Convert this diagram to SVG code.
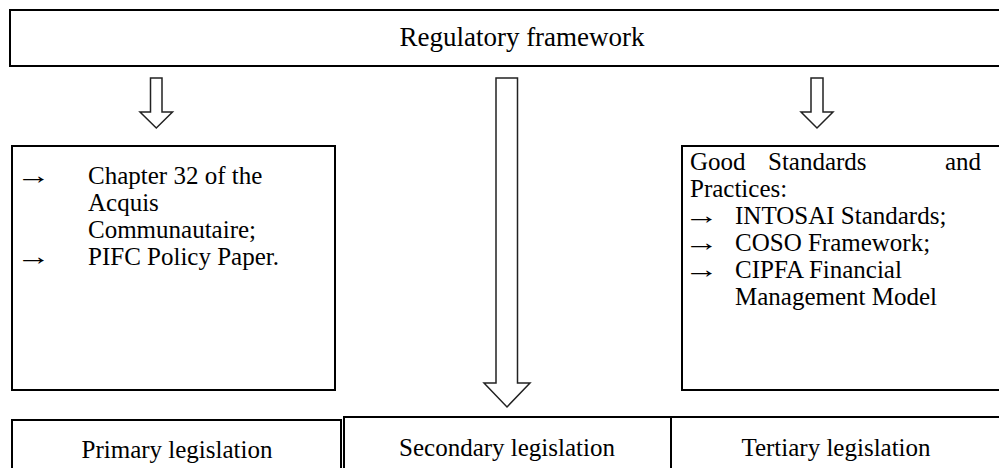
<svg xmlns="http://www.w3.org/2000/svg" width="999" height="468" viewBox="0 0 999 468">
<style>
.box{fill:#fff;stroke:#000;stroke-width:2}
.arr{fill:#fff;stroke:#222;stroke-width:1.5;stroke-linejoin:miter}
text{font-family:"Liberation Serif","Times New Roman",serif;font-size:25px;fill:#000}
.c{text-anchor:middle}
</style>
<rect width="999" height="468" fill="#fff"/>
<g id="regulatory-framework">
<rect class="box" x="10" y="10" width="1000" height="56"/>
<text class="c" x="522" y="46" style="font-size:27px">Regulatory framework</text>
</g>
<g id="connectors">
<polygon class="arr" points="150.5,78 162,78 162,112 172.5,112 156.3,128 140,112 150.5,112"/>
<polygon class="arr" points="496,78 517.5,78 517.5,383 530,383 507,407 484,383 496,383"/>
<polygon class="arr" points="811,78 823,78 823,112 833,112 817,128 801,112 811,112"/>
</g>
<g id="eu-sources">
<rect class="box" x="12" y="146" width="323" height="244"/>
<text transform="translate(16,184) scale(1.4,1)">→</text><text x="88" y="184">Chapter 32 of the</text>
<text x="88" y="211">Acquis</text>
<text x="88" y="238">Communautaire;</text>
<text transform="translate(16,265) scale(1.4,1)">→</text><text x="88" y="265">PIFC Policy Paper.</text>
</g>
<g id="good-standards">
<rect class="box" x="682" y="146" width="330" height="244"/>
<text x="690" y="170">Good</text><text x="768" y="170">Standards</text><text x="981" y="170" text-anchor="end">and</text>
<text x="690" y="197">Practices:</text>
<text transform="translate(684,224) scale(1.4,1)">→</text><text x="735" y="224">INTOSAI Standards;</text>
<text transform="translate(684,251) scale(1.4,1)">→</text><text x="735" y="251">COSO Framework;</text>
<text transform="translate(684,278) scale(1.4,1)">→</text><text x="735" y="278">CIPFA Financial</text>
<text x="735" y="305">Management Model</text>
</g>
<g id="primary-legislation">
<rect class="box" x="12" y="420" width="329" height="60"/>
<text class="c" x="177" y="458">Primary legislation</text>
</g>
<g id="secondary-legislation">
<rect class="box" x="344" y="417" width="327" height="63"/>
<text class="c" x="507" y="456">Secondary legislation</text>
</g>
<g id="tertiary-legislation">
<rect class="box" x="671" y="417" width="340" height="63"/>
<text class="c" x="836" y="456">Tertiary legislation</text>
</g>
</svg>
